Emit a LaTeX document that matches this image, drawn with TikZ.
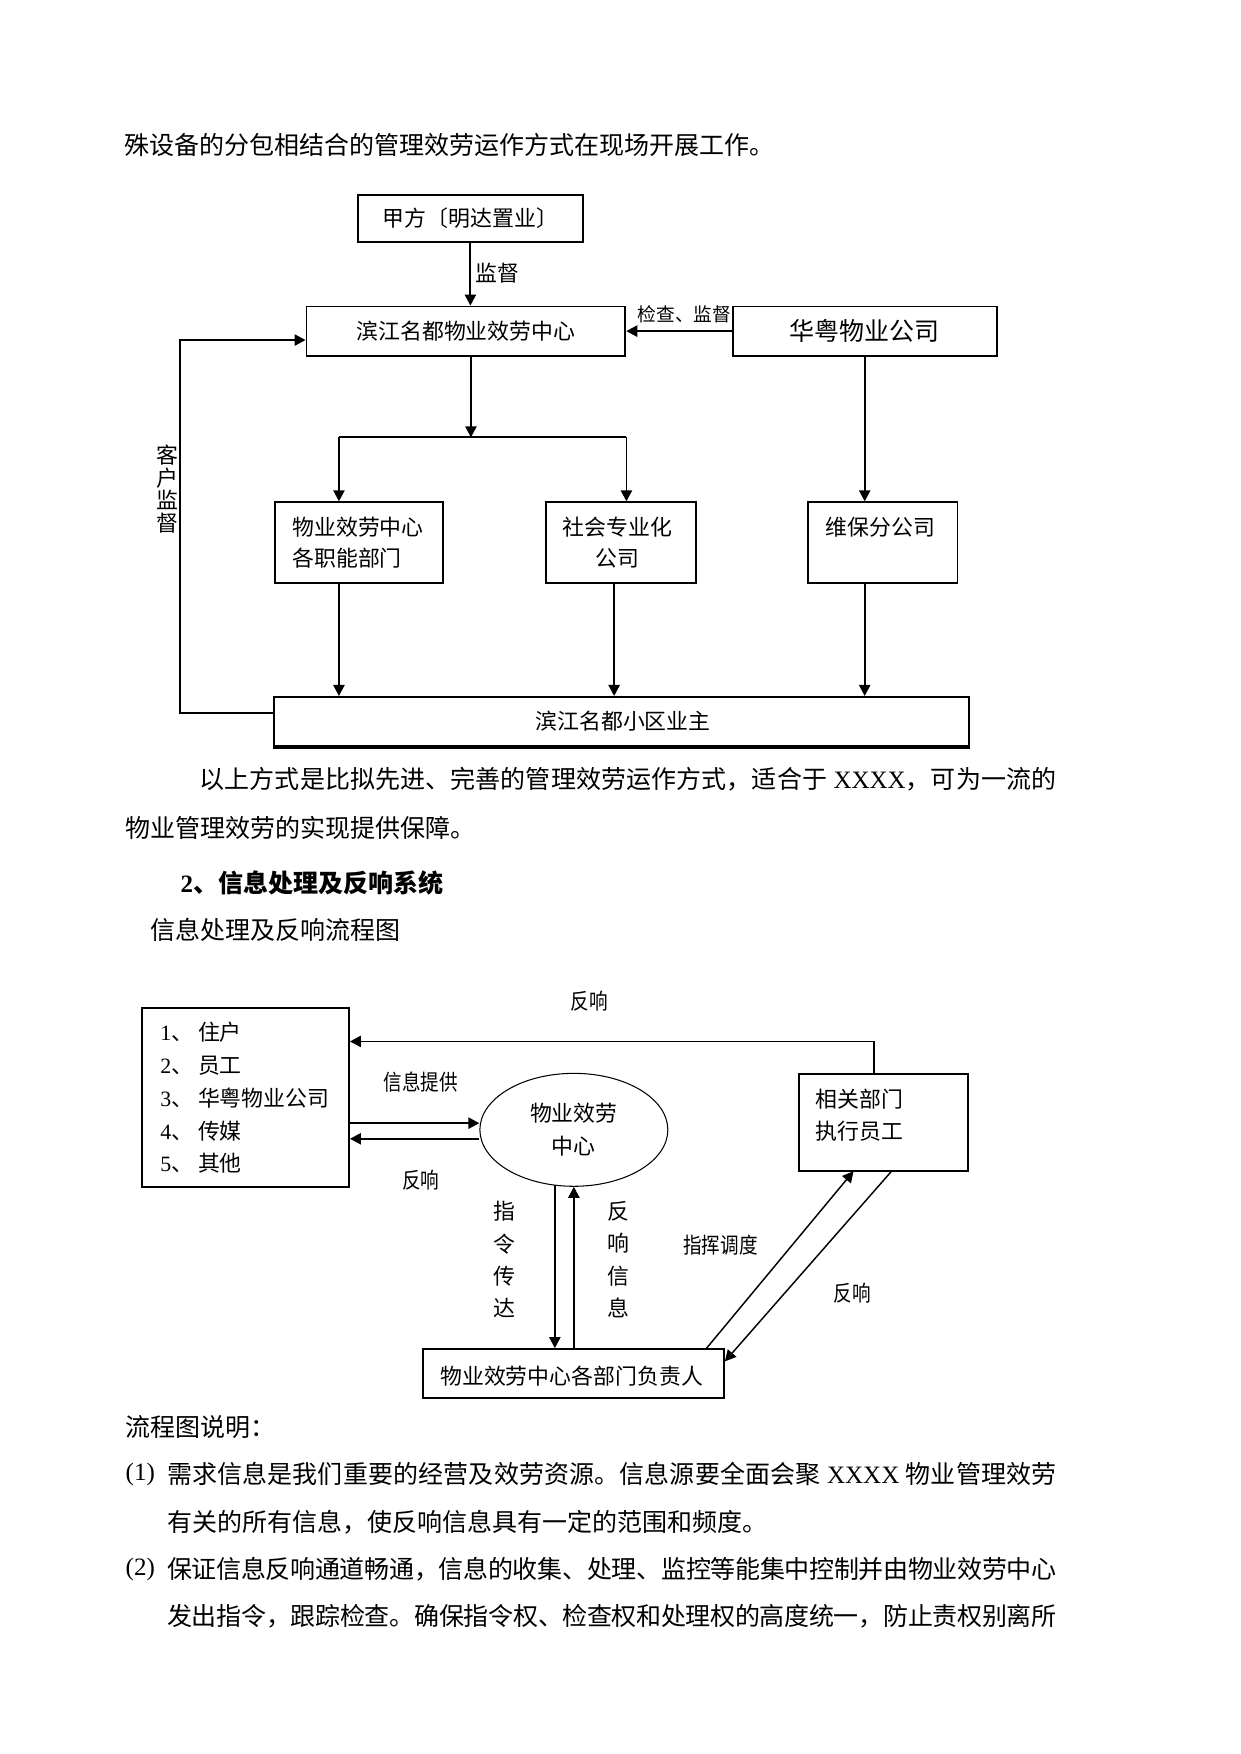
\documentclass[tikz,border=0pt]{standalone}
\usepackage{fontspec}
\setmainfont{Noto Sans CJK SC}
\newfontfamily\tnr{Liberation Serif}
\usetikzlibrary{arrows.meta,shapes.geometric,fit}
\XeTeXlinebreaklocale "zh"
\XeTeXlinebreakskip=0pt plus 1.5pt minus 0.3pt
\tikzset{
  box/.style={draw, line width=0.9pt, inner sep=0pt},
  ln/.style={line width=0.9pt},
  arr/.style={line width=0.9pt, -{Triangle[length=5.3pt,width=5.4pt]}},
  thinarr/.style={line width=0.7pt, -{Triangle[length=5.3pt,width=5.4pt]}},
  dtxt/.style={inner sep=0pt, font=\fontsize{10.5pt}{15pt}\selectfont},
  vtxt/.style={inner sep=0pt, align=center, font=\fontsize{10.5pt}{15.4pt}\selectfont},
  body/.style={inner sep=0pt, anchor=west, font=\fontsize{12pt}{14pt}\selectfont},
}
\newcommand\cond[1]{\scalebox{0.85}[1]{#1}}
\newcommand\jpar[2]{\parbox{#1}{\parfillskip=0pt\relax #2}}
\begin{document}
\begin{tikzpicture}[x=0.5368pt,y=-0.5368pt]
\fill[white] (0,0) rectangle (1109,1568);
\useasboundingbox (0,0) rectangle (1109,1568);

\node[body] (t0) at (111,130) {殊设备的分包相结合的管理效劳运作方式在现场开展工作。};

% ---------- top diagram ----------
\node[box, fit={(320,174)(521,216)}] (jf) {};
\node[dtxt] (jft) at (jf.center) {甲方〔明达置业〕};
\node[box, fit={(274,274)(559,318)}] (bj) {};
\node[dtxt] (bjt) at (bj.center) {滨江名都物业效劳中心};
\node[box, fit={(655,274)(891,318)}] (hy) {};
\node[inner sep=0pt, font=\fontsize{12pt}{14pt}\selectfont] (hyt) at (hy.center) {华粤物业公司};

\draw[arr] (jf.south) -- (jf.south |- bj.north);
\node[dtxt] (l1) at (445,244) {监督};
\draw[arr] (hy.west) -- (bj.east);
\node[inner sep=0pt, font=\fontsize{9pt}{10pt}\selectfont] (l2) at (612,281) {检查、监督};

\coordinate (jn) at (421,391);
\coordinate (jl) at (303,391);
\coordinate (jr) at (560,391);
\draw[arr] (bj.south -| jn) -- (jn);
\draw[ln] (jl) -- (jr);

\node[box, fit={(246,449)(396,521)}] (b1) {};
\node[dtxt, anchor=west, align=left] (b1t) at (261,485) {物业效劳中心\\各职能部门};
\node[box, fit={(488,449)(622,521)}] (b2) {};
\node[dtxt, align=center] (b2t) at (552,485) {社会专业化\\公司};
\node[box, fit={(722,449)(856,521)}] (b3) {};
\node[dtxt, anchor=west] (b3t) at (738,471) {维保分公司};

\draw[arr] (jl) -- (jl |- b1.north);
\draw[arr] (jr) -- (jr |- b2.north);
\draw[arr] (hy.south) -- (hy.south |- b3.north);

\node[box, fit={(245,623)(866,667)}] (bo) {};
\node[dtxt] (bot) at (557,645) {滨江名都小区业主};
\draw[line width=1.6pt] (bo.south west) -- (bo.south east);

\coordinate (m2) at (549,521);
\draw[arr] (b1.south -| jl) -- (jl |- bo.north);
\draw[arr] (m2) -- (m2 |- bo.north);
\draw[arr] (b3.south -| hy.south) -- (hy.south |- bo.north);

\coordinate (lp) at (161,637);
\coordinate (lq) at (161,304);
\draw[arr] (bo.west |- lp) -- (lp) -- (lq) -- (bj.west |- lq);
\node[inner sep=0pt, align=center, font=\fontsize{10.5pt}{10.8pt}\selectfont] (kh) at (150,437) {客\\户\\监\\督};

% ---------- middle text ----------
\node[body] (t1) at (178,697) {\jpar{411.2pt}{以上方式是比拟先进、完善的管理效劳运作方式，适合于{\tnr\ XXXX}，可为一流的}};
\node[body] (t2) at (112,740) {物业管理效劳的实现提供保障。};
\node[body] (t3) at (161,789) {\textbf{{\tnr 2}、信息处理及反响系统}};
\node[body] (t4) at (134,831) {信息处理及反响流程图};

% ---------- bottom diagram ----------
\node[box, fit={(127,901)(312,1061)}] (lb) {};
\node[inner sep=0pt, anchor=west, align=left, font=\fontsize{10.5pt}{15.7pt}\selectfont] (lbt) at (143,981.5)
  {{\tnr 1}、 住户\\{\tnr 2}、 员工\\{\tnr 3}、 华粤物业公司\\{\tnr 4}、 传媒\\{\tnr 5}、 其他};

\node[draw, ellipse, line width=0.5pt, minimum width=90.2pt, minimum height=54.2pt, inner sep=0pt,
      align=center, font=\fontsize{10.5pt}{15.6pt}\selectfont] (el) at (513,1010) {物业效劳\\中心};

\node[box, fit={(714,960)(865,1047)}] (rb) {};
\node[dtxt, anchor=west, align=left] (rbt) at (729,997) {相关部门\\执行员工};

\node[box, fit={(378,1206)(647,1250)}] (bb) {};
\node[dtxt] (bbt) at (511,1230) {物业效劳中心各部门负责人};

\coordinate (s1) at ([yshift=3.2pt]el.west);
\coordinate (s2) at ([yshift=-4.3pt]el.west);
\draw[arr] (lb.east |- s1) -- (s1);
\draw[arr] (s2) -- (lb.east |- s2);

\coordinate (tf) at (781,931);
\draw[arr] (rb.north -| tf) -- (tf) -- (lb.east |- tf);

\coordinate (d1) at (496,1059.5);
\draw[arr] (d1) -- (d1 |- bb.north);
\draw[arr] (bb.north -| el.south) -- (el.south);

\coordinate (g1) at (631,1206);
\coordinate (g2) at (763,1047);
\draw[thinarr] (g1) -- (g2);
\coordinate (h1) at (797,1047);
\coordinate (h2) at (648,1217);
\draw[thinarr] (h1) -- (h2);

\node[dtxt] (f1) at (527,895) {\cond{反响}};
\node[dtxt] (f2) at (376,967) {\cond{信息提供}};
\node[dtxt] (f3) at (376,1055) {\cond{反响}};
\node[vtxt] (f4) at (451,1126) {指\\令\\传\\达};
\node[vtxt] (f5) at (553,1126) {反\\响\\信\\息};
\node[dtxt] (f6) at (644,1113) {\cond{指挥调度}};
\node[dtxt] (f7) at (762,1156) {\cond{反响}};

% ---------- bottom text ----------
\node[body] (t5) at (112,1276) {流程图说明：};
\node[body] (t6) at (112,1318) {\tnr (1)};
\node[body] (t7) at (149,1318) {\jpar{426.8pt}{需求信息是我们重要的经营及效劳资源。信息源要全面会聚{\tnr\ XXXX\ }物业管理效劳}};
\node[body] (t8) at (149,1361) {有关的所有信息，使反响信息具有一定的范围和频度。};
\node[body] (t9) at (112,1403) {\tnr (2)};
\node[body] (t10) at (149,1403) {\jpar{426.8pt}{保证信息反响通道畅通，信息的收集、处理、监控等能集中控制并由物业效劳中心}};
\node[body] (t11) at (149,1445) {\jpar{426.8pt}{发出指令，跟踪检查。确保指令权、检查权和处理权的高度统一，防止责权别离所}};
\end{tikzpicture}
\end{document}
